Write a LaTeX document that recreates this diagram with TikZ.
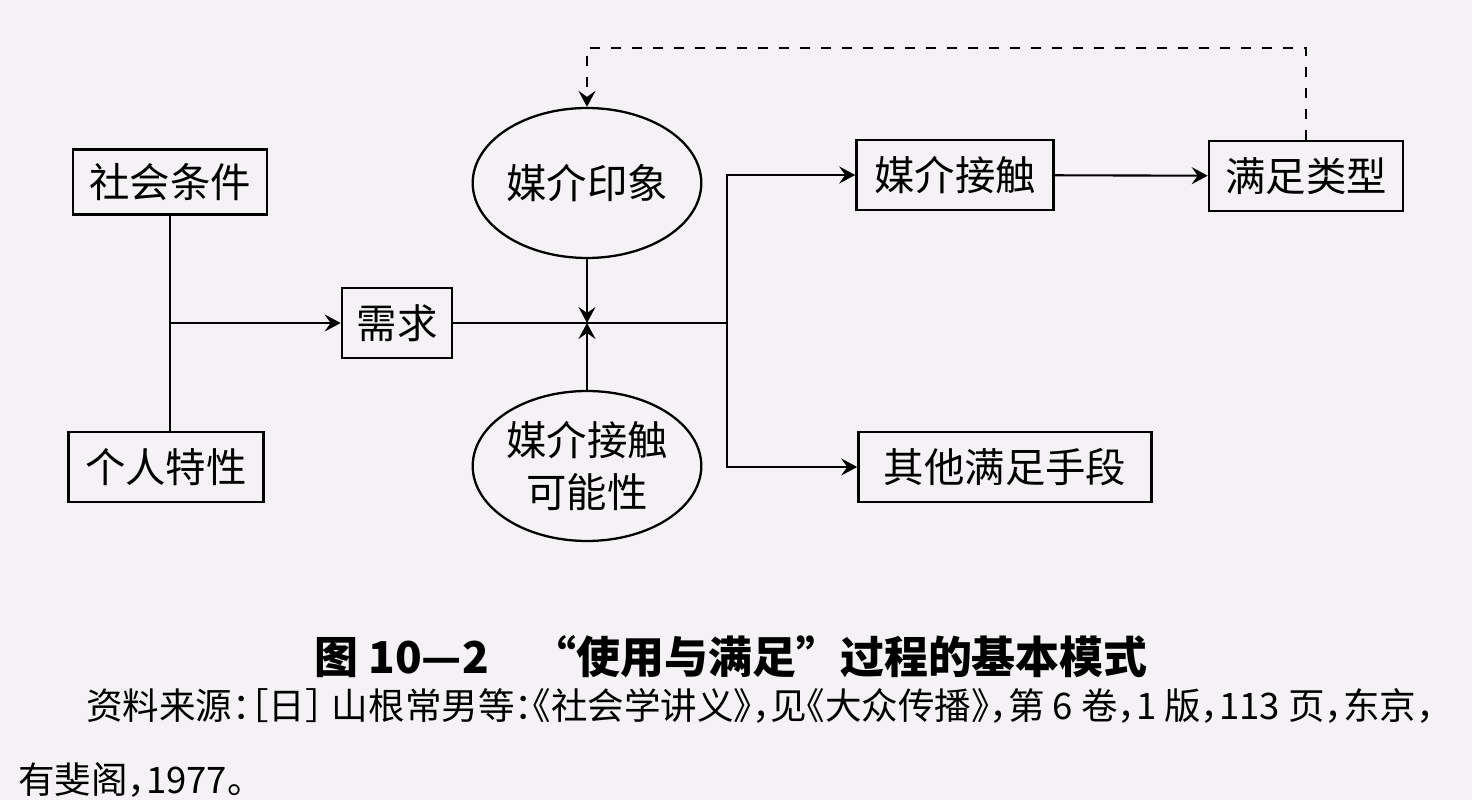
\documentclass[tikz,border=0pt]{standalone}
\usepackage{fontspec}
\setmainfont{Noto Sans CJK SC}
\newfontfamily\srcfont[RawFeature=+halt]{Noto Sans CJK SC}
\usetikzlibrary{arrows.meta, shapes.geometric, positioning}
\definecolor{paper}{RGB}{244,242,244}

\begin{document}
\begin{tikzpicture}[x=0.02cm, y=-0.02cm,
  box/.style={draw, line width=1.5pt, minimum height=1.4cm, inner sep=0pt,
              font=\fontsize{23}{27}\selectfont},
  oval/.style={ellipse, draw, line width=1.3pt, minimum width=4.2cm,
               minimum height=3cm, inner sep=0pt, align=center,
               font=\fontsize{23}{30}\selectfont},
  arr/.style={-{Stealth[length=3.2mm, width=3.4mm, inset=1.2mm]}, line width=1.2pt},
  fb/.style={arr, dash pattern=on 0.2cm off 0.22cm}]
  \fill[paper] (0,0) rectangle (1472,800);
  \useasboundingbox (0,0) rectangle (1472,800);
  % left side
  \node[box, minimum width=3.88cm, minimum height=1.3cm] (soc) at (170,182) {社会条件};
  \node[box, minimum width=3.9cm] (per) at (166,467) {个人特性};
  \node[box, minimum width=2.2cm] (need) at (397,323) {需求};
  \coordinate (jl) at (170,323);
  \draw[line width=1.2pt] (soc.south) -- (soc.south |- per.north);
  \draw[arr] (jl) -- (need.west);
  % middle
  \node[oval] (img) at (587,183) {媒介印象};
  \node[oval] (poss) at (587,466) {媒介接触\\可能性};
  \coordinate (jm) at (587,323);
  \coordinate (jr) at (727,323);
  \draw[line width=1.2pt] (need.east) -- (jr);
  \draw[arr] (img.south) -- (jm);
  \draw[arr] (poss.north) -- (jm);
  % right side
  \node[box, minimum width=3.94cm] (cont) at (955,175) {媒介接触};
  \node[box, minimum width=3.88cm] (type) at (1306,176) {满足类型};
  \node[box, minimum width=5.86cm] (other) at (1005,467) {其他满足手段};
  \draw[arr] (jr) |- (cont.west);
  \draw[arr] (jr) |- (other.west);
  \draw[arr] (cont) -- (type);
  \draw[fb] (type.north) -- ++(0,-92) -| (img.north);
  % caption
  \node[font=\fontsize{25}{30}\selectfont\bfseries] (cap) at (731,657)
    {图 10—2\quad “使用与满足”过程的基本模式};
  \node[anchor=west, font=\srcfont\fontsize{20.8}{24}\selectfont] (src1) at (80,706)
    {资料来源：［日］ 山根常男等：《社会学讲义》，见《大众传播》，第 6 卷，1 版，113 页，东京，};
  \node[anchor=west, font=\srcfont\fontsize{20.8}{24}\selectfont] (src2) at (12,780)
    {有斐阁，1977。};
\end{tikzpicture}
\end{document}
